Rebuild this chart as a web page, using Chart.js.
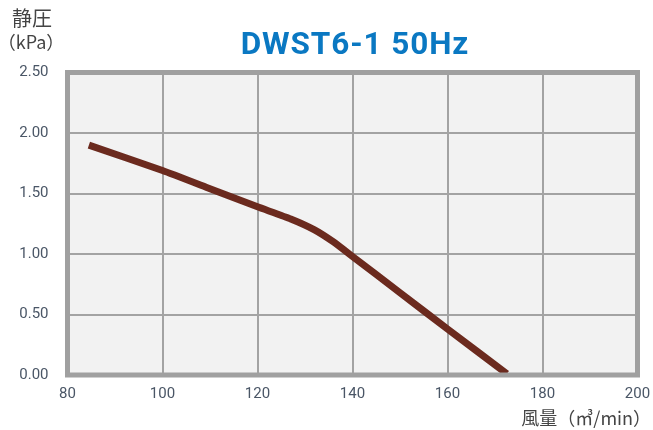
<!DOCTYPE html>
<html>
<head>
<meta charset="utf-8">
<script src="https://cdn.jsdelivr.net/npm/chart.js@4/dist/chart.umd.min.js"></script>
<style>
html,body{margin:0;padding:0;background:#fff;}
#wrap{width:653px;height:430px;position:relative;}
</style>
</head>
<body>
<div id="wrap"><canvas id="c" width="653" height="430"></canvas></div>
<script>
const titleText = "DWST6-1 50Hz";
const yLabelTop = "静圧";
const yLabelUnit = "（kPa）";
const xLabel = "風量（㎥/min）";
const airflow = [84.5, 100, 110, 120, 127, 132, 136, 140, 150, 160, 172.5];
const pressure = [1.90, 1.69, 1.54, 1.39, 1.29, 1.20, 1.10, 0.98, 0.68, 0.38, 0.01];
const xTicks = [80, 100, 120, 140, 160, 180, 200];
const yTicks = [0, 0.5, 1.0, 1.5, 2.0, 2.5];

const points = airflow.map((x, i) => ({x: x, y: pressure[i]}));

const decor = {
  id: 'decor',
  beforeDraw(chart) {
    const {ctx, chartArea: a} = chart;
    ctx.save();
    ctx.fillStyle = '#f2f2f2';
    ctx.fillRect(a.left, a.top, a.right - a.left, a.bottom - a.top);
    ctx.restore();
  },
  afterDatasetsDraw(chart) {
    const {ctx, chartArea: a} = chart;
    ctx.save();
    ctx.strokeStyle = '#a0a0a0';
    ctx.lineWidth = 5;
    ctx.strokeRect(a.left, a.top, a.right - a.left, a.bottom - a.top);
    ctx.restore();
  },
  afterDraw(chart) {
    const {ctx, chartArea: a} = chart;
    ctx.save();
    ctx.fillStyle = '#0a78c2';
    ctx.font = 'bold 31.5px Roboto';
    ctx.textAlign = 'left';
    ctx.textBaseline = 'alphabetic';
    ctx.letterSpacing = '0.9px';
    const w = ctx.measureText(titleText).width - 0.9;
    ctx.fillText(titleText, 354.5 - w / 2, 53.5);
    ctx.letterSpacing = '0px';
    ctx.fillStyle = '#444444';
    ctx.font = '20px "Noto Sans CJK JP"';
    ctx.textAlign = 'center';
    ctx.textBaseline = 'middle';
    ctx.fillText(yLabelTop, 32, 18);
    ctx.font = '18px "Noto Sans CJK JP"';
    ctx.fillText(yLabelUnit, 31, 42);
    ctx.font = '18px "Noto Sans CJK JP"';
    ctx.textAlign = 'right';
    ctx.fillText(xLabel, 651, 418);
    ctx.restore();
  }
};

new Chart(document.getElementById('c'), {
  type: 'line',
  data: {
    datasets: [{
      data: points,
      borderColor: '#6b2a1e',
      borderWidth: 7,
      pointRadius: 0,
      fill: false,
      tension: 0.15,
      borderCapStyle: 'butt'
    }]
  },
  options: {
    responsive: false,
    animation: false,
    devicePixelRatio: 1,
    layout: {padding: {left: 0, right: 15.5, top: 72.5, bottom: 0}},
    plugins: {legend: {display: false}, tooltip: {enabled: false}, title: {display: false}},
    scales: {
      x: {
        type: 'linear',
        min: 80, max: 200,
        afterBuildTicks: s => { s.ticks = xTicks.map(v => ({value: v})); },
        afterFit: s => { s.height = 55; s.paddingLeft = 0; s.paddingRight = 0; },
        grid: {color: '#a3a3a3', lineWidth: 2, drawTicks: false},
        border: {display: false},
        ticks: {color: '#4a5666', font: {family: 'Roboto', size: 15}, padding: 10, maxRotation: 0, callback: v => String(v)}
      },
      y: {
        type: 'linear',
        min: 0, max: 2.5,
        afterBuildTicks: s => { s.ticks = yTicks.map(v => ({value: v})); },
        afterFit: s => { s.width = 67.5; s.paddingTop = 0; s.paddingBottom = 0; },
        grid: {color: '#a3a3a3', lineWidth: 2, drawTicks: false},
        border: {display: false},
        ticks: {color: '#4a5666', font: {family: 'Roboto', size: 15}, padding: 19, callback: v => Number(v).toFixed(2)}
      }
    }
  },
  plugins: [decor]
});
</script>
</body>
</html>
